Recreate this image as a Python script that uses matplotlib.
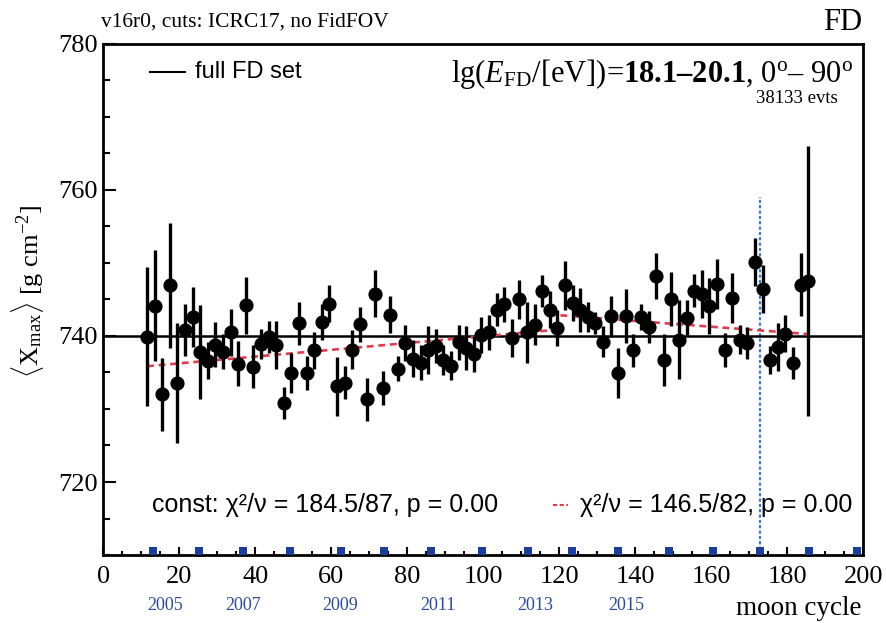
import matplotlib
matplotlib.use("Agg")
import matplotlib.pyplot as plt
from matplotlib.ticker import MultipleLocator
from matplotlib.transforms import blended_transform_factory

plt.rcParams['mathtext.fontset'] = 'custom'
plt.rcParams['mathtext.rm'] = 'Liberation Serif'
plt.rcParams['mathtext.it'] = 'Liberation Serif:italic'
plt.rcParams['mathtext.bf'] = 'Liberation Serif:bold'

SERIF = 'Liberation Serif'
SANS = 'Liberation Sans'

# moon cycle bin centres and <Xmax> per bin
moon_cycle = [11.5, 13.5, 15.5, 17.5, 19.5, 21.5, 23.5, 25.5, 27.5, 29.5,
              31.5, 33.5, 35.5, 37.5, 39.5, 41.5, 43.5, 45.5, 47.5, 49.5,
              51.5, 53.5, 55.5, 57.5, 59.5, 61.5, 63.5, 65.5, 67.5, 69.5,
              71.5, 73.5, 75.5, 77.5, 79.5, 81.5, 83.5, 85.5, 87.5, 89.5,
              91.5, 93.5, 95.5, 97.5, 99.5, 101.5, 103.5, 105.5, 107.5, 109.5,
              111.5, 113.5, 115.5, 117.5, 119.5, 121.5, 123.5, 125.5, 127.5, 129.5,
              131.5, 133.5, 135.5, 137.5, 139.5, 141.5, 143.5, 145.5, 147.5, 149.5,
              151.5, 153.5, 155.5, 157.5, 159.5, 161.5, 163.5, 165.5, 167.5, 169.5,
              171.5, 173.5, 175.5, 177.5, 179.5, 181.5, 183.5, 185.5]
xmax_mean = [739.9, 744.1, 732.0, 746.9, 733.5, 740.8, 742.6, 737.8, 736.6, 738.8,
             737.8, 740.5, 736.2, 744.2, 735.8, 738.9, 739.8, 738.7, 730.8, 734.9,
             741.7, 734.9, 738.0, 741.9, 744.4, 733.1, 733.6, 738.1, 741.6, 731.3,
             745.8, 732.9, 742.9, 735.5, 739.0, 736.9, 736.3, 738.1, 738.6, 736.7,
             735.9, 739.1, 738.3, 737.5, 740.1, 740.5, 743.6, 744.3, 739.7, 745.0,
             740.5, 741.5, 746.2, 743.6, 741.1, 746.9, 744.5, 743.6, 742.6, 741.8,
             739.2, 742.7, 734.9, 742.7, 738.0, 742.6, 741.2, 748.2, 736.7, 745.0,
             739.5, 742.5, 746.2, 745.7, 744.1, 747.1, 738.1, 745.2, 739.5, 739.0,
             750.1, 746.4, 736.7, 738.5, 740.3, 736.3, 747.0, 747.5]
xmax_err = [9.5, 7.6, 5.0, 8.5, 8.2, 3.5, 4.1, 6.4, 2.5, 3.1,
            2.4, 3.2, 3.1, 3.9, 3.0, 2.1, 2.2, 3.3, 2.2, 2.7,
            2.9, 2.3, 2.5, 2.4, 2.5, 4.0, 2.3, 2.7, 2.4, 2.9,
            3.2, 2.3, 2.5, 1.7, 2.5, 2.5, 2.4, 3.3, 2.3, 2.0,
            2.0, 2.4, 3.0, 2.5, 2.5, 2.4, 2.3, 2.4, 2.6, 2.7,
            4.2, 2.8, 2.2, 2.5, 2.5, 3.4, 2.5, 3.0, 2.0, 1.5,
            2.1, 2.8, 3.4, 3.7, 2.2, 1.8, 2.2, 3.2, 3.6, 3.7,
            5.4, 2.4, 2.3, 3.3, 3.8, 3.4, 2.3, 3.4, 2.0, 2.2,
            3.3, 3.3, 1.9, 3.3, 2.5, 2.2, 4.3, 18.5]

const_fit = 740.0
# broken-line fit
fit_x = [11.5, 119.5, 119.5, 185.5]
fit_y = [735.85, 740.85, 742.85, 740.25]

# year boundaries in moon cycles
year_marks = [13.0, 25.3, 36.8, 49.1, 62.5, 73.9, 86.2, 99.6, 111.8, 123.3,
              135.5, 148.9, 160.5, 172.8, 185.8, 198.4]
year_labels = ['2005', '2007', '2009', '2011', '2013', '2015']
year_label_x = [16.2, 36.8, 62.3, 88.0, 113.6, 137.5]
cut_cycle = 172.8

fig = plt.figure(figsize=(8.87, 6.23), dpi=100)
ax = fig.add_axes([0.1165, 0.109, 0.8568, 0.821])

ax.axhline(const_fit, color='black', lw=1.8, zorder=2)
ax.plot(fit_x, fit_y, color='#e23a4e', lw=1.9, ls=(0, (2.6, 1.8)), zorder=3)
ax.errorbar(moon_cycle, xmax_mean, yerr=xmax_err, fmt='o', color='black',
            markersize=9.2, elinewidth=2.4, capsize=0, zorder=4)

ax.plot([cut_cycle, cut_cycle], [710, 759], color='#3a78d2', lw=1.6,
        ls=(0, (1.4, 1.0)), zorder=1)

trans = blended_transform_factory(ax.transData, ax.transAxes)
ax.scatter(year_marks, [0.008] * len(year_marks), marker='s', s=30,
           color='#1c3d9b', transform=trans, clip_on=False, zorder=5, linewidths=0)

ax.set_xlim(0, 200)
ax.set_ylim(710, 780)
ax.xaxis.set_major_locator(MultipleLocator(20))
ax.xaxis.set_minor_locator(MultipleLocator(5))
ax.yaxis.set_major_locator(MultipleLocator(20))
ax.yaxis.set_minor_locator(MultipleLocator(5))
ax.tick_params(axis='both', which='both', direction='in', top=False, right=False, width=1.5)
ax.tick_params(axis='x', which='major', length=6, pad=8)
ax.tick_params(axis='x', which='minor', length=3)
ax.tick_params(axis='y', which='major', length=9.5, pad=4)
ax.tick_params(axis='y', which='minor', length=4.8)
for lab in ax.get_xticklabels() + ax.get_yticklabels():
    lab.set_fontfamily(SERIF)
    lab.set_fontsize(19)
for sp in ax.spines.values():
    sp.set_linewidth(2.0)

# legend and annotations inside the frame
ax.plot([0.0614, 0.1075], [0.944, 0.944], color='black', lw=1.5, transform=ax.transAxes)
ax.text(0.1207, 0.944, 'full FD set', transform=ax.transAxes, ha='left', va='center',
        fontfamily=SANS, fontsize=17)
ax.text(0.9864, 0.925,
        r'lg($E_{\mathrm{FD}}$/[eV])=$\mathbf{18.1–20.1}$, 0$^{\mathrm{o}}$– 90$^{\mathrm{o}}$',
        transform=ax.transAxes, ha='right', va='baseline', fontfamily=SERIF, fontsize=22)
ax.text(0.9667, 0.8837, '38133 evts', transform=ax.transAxes, ha='right', va='baseline',
        fontfamily=SERIF, fontsize=13.5)
ax.text(0.0641, 0.0978, 'const: χ²/ν = 184.5/87, p = 0.00', transform=ax.transAxes,
        ha='left', va='center', fontfamily=SANS, fontsize=18)
ax.plot([0.5917, 0.6114], [0.097, 0.097], color='#e23a4e', lw=1.5, ls=(0, (2, 1.2)),
        transform=ax.transAxes)
ax.text(0.9852, 0.0978, 'χ²/ν = 146.5/82, p = 0.00', transform=ax.transAxes,
        ha='right', va='center', fontfamily=SANS, fontsize=18)

# texts outside the frame
fig.text(0.1139, 0.9567, 'v16r0, cuts: ICRC17, no FidFOV', ha='left', va='baseline',
         fontfamily=SERIF, fontsize=15.5)
fig.text(0.9718, 0.952, 'FD', ha='right', va='baseline', fontfamily=SERIF, fontsize=22)
fig.text(0.9718, 0.0128, 'moon cycle', ha='right', va='baseline', fontfamily=SERIF, fontsize=19.5)
fig.text(28 / 887, 1 - 291 / 623, r'$\langle\mathrm{X}_{\mathrm{max}}\rangle$ [g cm$^{\mathrm{-2}}$]',
         rotation=90, ha='center', va='center', fontfamily=SERIF, fontsize=19)
for lbl, xv in zip(year_labels, year_label_x):
    xf = (0.1165 + 0.8568 * xv / 200)
    fig.text(xf, 1 - 606 / 623, lbl, ha='center', va='center', color='#2a4aa0',
             fontfamily=SERIF, fontsize=13)

fig.savefig('out.png', dpi=100)
